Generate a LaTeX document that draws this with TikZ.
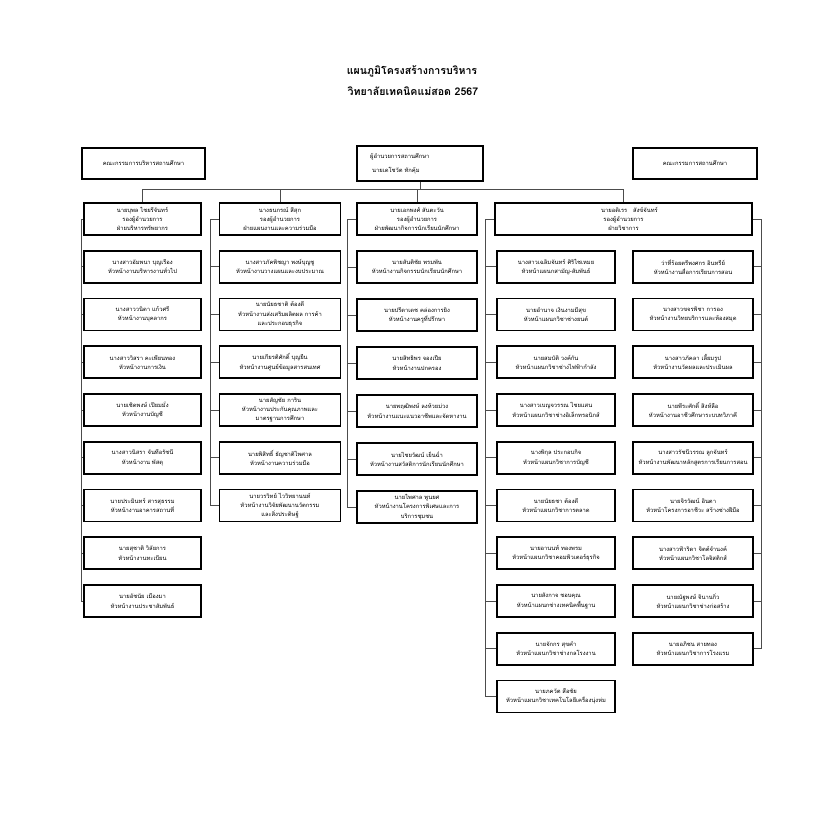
\documentclass[tikz,border=0pt]{standalone}
\usepackage{fontspec}
\setmainfont{Loma}[Script=Thai]
\begin{document}
\begin{tikzpicture}[x=1pt,y=-1pt,
  orgbox/.style={draw=black, line width=1.6pt, minimum height=32pt, text width=#1,
    align=center, inner xsep=1.5pt, inner ysep=0pt, font=\fontsize{5.8}{9.3}\selectfont},
  topbox/.style={draw=black, line width=1.6pt, align=center, inner sep=0pt,
    font=\fontsize{5.8}{9.3}\selectfont},
  conn/.style={draw=black!70, line width=0.9pt},
  ttl/.style={font=\bfseries\fontsize{10.6}{12}\selectfont, inner sep=0pt}]
\useasboundingbox (0,0) rectangle (832,828);
\fill[white] (0,0) rectangle (832,828);

% title
\node[ttl] (t1) at (412,71) {แผนภูมิโครงสร้างการบริหาร};
\node[ttl] (t2) at (413,91) {วิทยาลัยเทคนิคแม่สอด 2567};

% top row
\node[topbox, minimum width=123pt, minimum height=31pt] (kb) at (143.5,163.5) {คณะกรรมการบริหารสถานศึกษา};
\node[topbox, minimum width=126pt, minimum height=35pt] (dir) at (420,163.5) {};
\node[anchor=west, align=left, inner sep=0pt, font=\fontsize{5.8}{14}\selectfont] (dirt) at (370,163.5) {ผู้อำนวยการสถานศึกษา\\\hspace*{2pt}นายเดโชวัต ทักคุ้ม};
\node[topbox, minimum width=124pt, minimum height=31pt] (ks) at (695,163.5) {คณะกรรมการสถานศึกษา};

% column 1
\def\rs{47.75}
\node[orgbox=114pt] (a1) at (142.5,219) {นายบุพล ไชยรีจันทร์\\รองผู้อำนวยการ\\ฝ่ายบริหารทรัพยากร};
\node[orgbox=114pt] (a2) at (142.5,219+1*\rs) {นางสาวอัมพนา บุญเรือง\\หัวหน้างานบริหารงานทั่วไป};
\node[orgbox=114pt] (a3) at (142.5,219+2*\rs) {นางสาววนิดา แก้วศรี\\หัวหน้างานบุคลากร};
\node[orgbox=114pt] (a4) at (142.5,219+3*\rs) {นางสาววิสรา คะเพียนทอง\\หัวหน้างานการเงิน};
\node[orgbox=114pt] (a5) at (142.5,219+4*\rs) {นายเชิดพงษ์ เปียมมั่ง\\หัวหน้างานบัญชี};
\node[orgbox=114pt] (a6) at (142.5,219+5*\rs) {นางสาวนิสรา จันทีอรัชนี\\หัวหน้างาน พัสดุ};
\node[orgbox=114pt] (a7) at (142.5,219+6*\rs) {นายประมินทร์ สารสุธรรม\\หัวหน้างานอาคารสถานที่};
\node[orgbox=114pt] (a8) at (142.5,219+7*\rs) {นายสุชาติ วิลัยการ\\หัวหน้างานทะเบียน};
\node[orgbox=114pt] (a9) at (142.5,219+8*\rs) {นายอัชนัย เมืองมา\\หัวหน้างานประชาสัมพันธ์};

% column 2
\node[orgbox=118pt] (b1) at (280,219) {นางธนกรณ์ สีสุก\\รองผู้อำนวยการ\\ฝ่ายแผนงานและความร่วมมือ};
\node[orgbox=118pt] (b2) at (280,219+1*\rs) {นางสาวภัคพิชญา พงษ์บุญชู\\หัวหน้างานวางแผนและงบประมาณ};
\node[orgbox=118pt] (b3) at (280,219+2*\rs) {นายนัยธชาติ ต้องดี\\หัวหน้างานส่งเสริมผลิตผล การค้า\\และประกอบธุรกิจ};
\node[orgbox=118pt] (b4) at (280,219+3*\rs) {นายเกียรติศักดิ์ บุญยืน\\หัวหน้างานศูนย์ข้อมูลสารสนเทศ};
\node[orgbox=118pt] (b5) at (280,219+4*\rs) {นายสัญชัย การิน\\หัวหน้างานประกันคุณภาพและ\\มาตรฐานการศึกษา};
\node[orgbox=118pt] (b6) at (280,219+5*\rs) {นายพิสิทธิ์ ธัญชาติไพศาล\\หัวหน้างานความร่วมมือ};
\node[orgbox=118pt] (b7) at (280,219+6*\rs) {นายวรวิทย์ ไววิทยานนท์\\หัวหน้างานวิจัยพัฒนานวัตกรรม\\และสิ่งประดิษฐ์};

% column 3
\def\rt{48}
\node[orgbox=117pt] (c1) at (417,219) {นายเอกพงศ์ สันตะวัน\\รองผู้อำนวยการ\\ฝ่ายพัฒนากิจการนักเรียนนักศึกษา};
\node[orgbox=117pt] (c2) at (417,219+1*\rt) {นายสันติชัย พรมพัน\\หัวหน้างานกิจกรรมนักเรียนนักศึกษา};
\node[orgbox=117pt] (c3) at (417,219+2*\rt) {นายปรีดาเดช คล่องการยิง\\หัวหน้างานครูที่ปรึกษา};
\node[orgbox=117pt] (c4) at (417,219+3*\rt) {นายสิทธิพร จองเปีย\\หัวหน้างานปกครอง};
\node[orgbox=117pt] (c5) at (417,219+4*\rt) {นายพฤฒิพงษ์ ลงห้วยม่วง\\หัวหน้างานแนะแนวอาชีพและจัดหางาน};
\node[orgbox=117pt] (c6) at (417,219+5*\rt) {นายไชยวัฒน์ เย็นฉ่ำ\\หัวหน้างานสวัสดิการนักเรียนนักศึกษา};
\node[orgbox=117pt] (c7) at (417,219+6*\rt) {นายไพศาล พูนยศ\\หัวหน้างานโครงการพิเศษและการ\\บริการชุมชน};

% column 4 header
\node[orgbox=254pt] (d0) at (623.5,219) {\hspace*{12pt}นายอดิเรร \ \ สังข์จันทร์\\รองผู้อำนวยการ\\ฝ่ายวิชาการ};

% column 4 left
\node[orgbox=115pt] (d2) at (556,219+1*\rs) {นางสาวเฉลิมจันทร์ ศิริไชเหมย\\หัวหน้าแผนกสามัญ-สัมพันธ์};
\node[orgbox=115pt] (d3) at (556,219+2*\rs) {นายอำนาจ เงินงามมีสุข\\หัวหน้าแผนกวิชาช่างยนต์};
\node[orgbox=115pt] (d4) at (556,219+3*\rs) {นายสมบัติ วงค์กัน\\หัวหน้าแผนกวิชาช่างไฟฟ้ากำลัง};
\node[orgbox=115pt] (d5) at (556,219+4*\rs) {นางสาวเบญจวรรณ ไชยแสน\\หัวหน้าแผนกวิชาช่างอิเล็กทรอนิกส์};
\node[orgbox=115pt] (d6) at (556,219+5*\rs) {นางพิกุล ประกอบกิจ\\หัวหน้าแผนกวิชาการบัญชี};
\node[orgbox=115pt] (d7) at (556,219+6*\rs) {นายนัยธชา ต้องดี\\หัวหน้าแผนกวิชาการตลาด};
\node[orgbox=115pt] (d8) at (556,219+7*\rs) {นายอานนท์ ทองพรม\\หัวหน้าแผนกวิชาคอมพิวเตอร์ธุรกิจ};
\node[orgbox=115pt] (d9) at (556,219+8*\rs) {นายสังกาจ ชอบคุณ\\หัวหน้าแผนกช่างเทคนิคพื้นฐาน};
\node[orgbox=115pt] (d10) at (556,219+9*\rs) {นายจักกร สุขคำ\\หัวหน้าแผนกวิชาช่างกลโรงงาน};
\node[orgbox=115pt] (d11) at (556,219+10*\rs) {นายภควัต สือชัย\\หัวหน้าแผนกวิชาเทคโนโลยีเครื่องนุ่งห่ม};

% column 4 right
\node[orgbox=117pt] (e2) at (693,219+1*\rs) {ว่าที่ร้อยตรีพงศกร อินทรีย์\\หัวหน้างานสื่อการเรียนการสอน};
\node[orgbox=117pt] (e3) at (693,219+2*\rs) {นางสาวขจรพิชา การอง\\หัวหน้างานวิทยบริการและห้องสมุด};
\node[orgbox=117pt] (e4) at (693,219+3*\rs) {นางสาวภัคลา เลี้ยมรูป\\หัวหน้างานวัดผลและประเมินผล};
\node[orgbox=117pt] (e5) at (693,219+4*\rs) {นายพีระศักดิ์ สิงห์ลือ\\หัวหน้างานอาชีวศึกษาระบบทวิภาคี};
\node[orgbox=117pt] (e6) at (693,219+5*\rs) {นางสาวรัชนีวรรณ ลูกจันทร์\\หัวหน้างานพัฒนาหลักสูตรการเรียนการสอน};
\node[orgbox=117pt] (e7) at (693,219+6*\rs) {นายจิรวัฒน์ อินตา\\หัวหน้าโครงการอาชีวะ สร้างช่างฝีมือ};
\node[orgbox=117pt] (e8) at (693,219+7*\rs) {นางสาวฟ้าริดา จิตต์จำนงค์\\หัวหน้าแผนกวิชาโลจิสติกส์};
\node[orgbox=117pt] (e9) at (693,219+8*\rs) {นายณัฐพงษ์ จินานกิ่ว\\หัวหน้าแผนกวิชาช่างก่อสร้าง};
\node[orgbox=117pt] (e10) at (693,219+9*\rs) {นายอภิชน สายทอง\\หัวหน้าแผนกวิชาการโรงแรม};

% top connectors
\coordinate (hl) at (0,189);
\draw[conn] (dir.south) -- (dir.south |- hl);
\draw[conn] (a1.north) -- (a1.north |- hl) -- (d0.north |- hl) -- (d0.north);
\draw[conn] (b1.north) -- (b1.north |- hl);
\draw[conn] (c1.north) -- (c1.north |- hl);

% spines
\coordinate (sa) at ([xshift=-2pt]a1.west);
\draw[conn] (a1.west) -- (sa) |- (a9.west);
\foreach \i in {2,...,8} \draw[conn] (a\i.west) -- (a\i.west -| sa);

\coordinate (sb) at ([xshift=-8pt]b1.west);
\draw[conn] (b1.west) -- (sb) |- (b7.west);
\foreach \i in {2,...,6} \draw[conn] (b\i.west) -- (b\i.west -| sb);

\coordinate (sc) at ([xshift=-9pt]c1.west);
\draw[conn] (c1.west) -- (sc) |- (c7.west);
\foreach \i in {2,...,6} \draw[conn] (c\i.west) -- (c\i.west -| sc);

\coordinate (sd) at ([xshift=-9pt]d0.west);
\draw[conn] (d0.west) -- (sd) |- (d11.west);
\foreach \i in {2,...,10} \draw[conn] (d\i.west) -- (d\i.west -| sd);

\coordinate (se) at ([xshift=8.5pt]d0.east);
\draw[conn] (d0.east) -- (se) |- (e10.east);
\foreach \i in {2,...,9} \draw[conn] (e\i.east) -- (e\i.east -| se);
\end{tikzpicture}
\end{document}
